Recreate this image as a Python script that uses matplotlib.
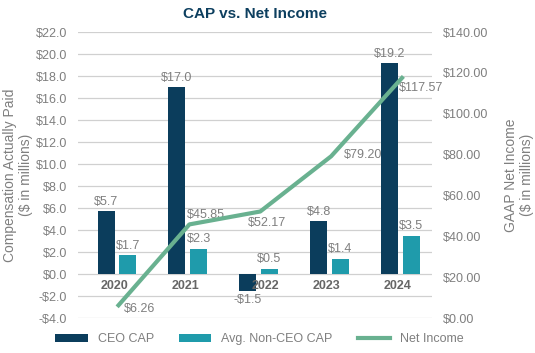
import matplotlib.pyplot as plt
import numpy as np

plt.rcParams['font.family'] = ['Liberation Sans', 'DejaVu Sans']

years = ['2020', '2021', '2022', '2023', '2024']
ceo_cap = [5.7, 17.0, -1.5, 4.8, 19.2]
non_ceo_cap = [1.7, 2.3, 0.5, 1.4, 3.5]
net_income = [6.26, 45.85, 52.17, 79.20, 117.57]

navy = '#0b3d5c'
teal = '#1f9bab'
green = '#69b190'
grey = '#7f7f7f'

fig = plt.figure(figsize=(5.35, 3.53), dpi=100)
ax = fig.add_axes([0.146, 0.099, 0.661, 0.810])
ax2 = ax.twinx()

x = np.arange(len(years))
w = 0.24
ax.bar(x - 0.155, ceo_cap, w, color=navy, label='CEO CAP', zorder=3)
ax.bar(x + 0.15, non_ceo_cap, w, color=teal, label='Avg. Non-CEO CAP', zorder=3)

for i in range(len(years)):
    v = ceo_cap[i]
    if v >= 0:
        ax.text(x[i] - 0.155, v + 0.3, f'${v:.1f}', ha='center', va='bottom', color=grey, fontsize=9)
    else:
        ax.text(x[i] - 0.155, v - 0.3, f'-${abs(v):.1f}', ha='center', va='top', color=grey, fontsize=9)
    ax.text(x[i] + 0.15, non_ceo_cap[i] + 0.3, f'${non_ceo_cap[i]:.1f}', ha='center', va='bottom', color=grey, fontsize=9)
    # 2022 label sits a little right of the negative bar
    xo = 0.1 if years[i] == '2022' else -0.04
    ax.text(x[i] + xo, -0.5, years[i], ha='center', va='top', color='#666666', fontsize=9, fontweight='bold', zorder=5)

ax.set_xlim(-0.55, 4.44)
ax.set_ylim(-4, 22)
ax.set_yticks(np.arange(-4, 23, 2))
ax.set_yticklabels([f'-${abs(t):.1f}' if t < 0 else f'${t:.1f}' for t in np.arange(-4, 23, 2)])
ax.set_xticks([])
ax.grid(axis='y', color='#d0d0d0', linewidth=0.9, zorder=0)
ax.tick_params(axis='y', length=0, labelcolor=grey, labelsize=9, pad=8)
ax.set_ylabel('Compensation Actually Paid\n($ in millions)', color=grey, fontsize=10, labelpad=2)

ax2.plot(x + 0.02, net_income, color=green, linewidth=3, label='Net Income', zorder=4)
offs = [(4, -3), (-2, 7), (-9, -8), (9, 1), (-2, -7)]
for i, v in enumerate(net_income):
    dx, dy = offs[i]
    ax2.annotate(f'${v:.2f}', (x[i] + 0.02, v), xytext=(dx, dy), textcoords='offset points',
                 ha='left', va='center', color=grey, fontsize=9)
ax2.set_ylim(0, 140)
ax2.set_yticks(np.arange(0, 141, 20))
ax2.set_yticklabels([f'${t:.2f}' for t in np.arange(0, 141, 20)])
ax2.tick_params(axis='y', length=0, labelcolor=grey, labelsize=9, pad=8)
ax2.set_ylabel('GAAP Net Income\n($ in millions)', color=grey, fontsize=10, labelpad=11)

for a in (ax, ax2):
    for s in a.spines.values():
        s.set_visible(False)

ax.set_title('CAP vs. Net Income', fontsize=11, fontweight='bold', color='#0d3f5f', pad=10)

h1, l1 = ax.get_legend_handles_labels()
h2, l2 = ax2.get_legend_handles_labels()
fig.legend(h1 + h2, l1 + l2, loc='lower center', bbox_to_anchor=(0.485, -0.01), ncol=3,
           frameon=False, fontsize=9, labelcolor=grey, columnspacing=2.0, handlelength=2.6,
           handleheight=0.6)

fig.savefig('out.png', dpi=100)
